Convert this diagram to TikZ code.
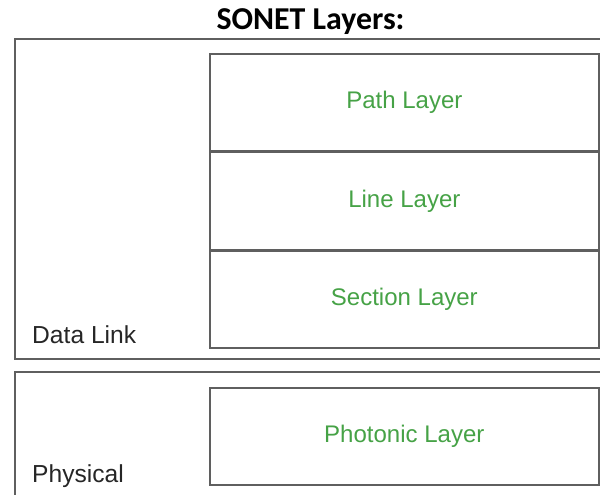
\documentclass[tikz,border=0pt]{standalone}
\usepackage{fontspec}
\setmainfont{Liberation Sans}
\newfontfamily\titlefont{Carlito}
\usetikzlibrary{positioning}
\definecolor{layergreen}{RGB}{70,162,70}
\definecolor{boxgray}{RGB}{95,95,95}

\begin{document}
\begin{tikzpicture}[
    x=0.03cm, y=-0.03cm, % pixel grid, y downwards
    frame/.style={draw=boxgray, line width=1.4pt},
    layer/.style={frame, minimum width=11.67cm, minimum height=2.91cm, inner sep=0pt,
                  text=layergreen, font=\fontsize{20.5}{24}\selectfont},
    side/.style={anchor=base west, inner sep=0pt, text=black!85, font=\fontsize{21}{24}\selectfont}
]
\useasboundingbox (0,0) rectangle (600,494);
\clip (0,0) rectangle (600,494);

% ========== title ==========
\node[anchor=base, inner sep=0pt, font=\titlefont\bfseries\fontsize{27.2}{30}\selectfont] (title) at (310.5,29) {SONET Layers:};

% ========== Data Link ==========
\draw[frame] (15,39) rectangle (610,359); % outer box
\node[layer, anchor=north west] (path) at (209,53) {Path Layer};
\node[layer, below=0pt of path] (line) {Line Layer};
\node[layer, below=0pt of line] (section) {Section Layer};
\node[side] (dlink) at (32,343) {Data Link};

% ========== Physical ==========
\draw[frame] (15,510) -- (15,372) -- (610,372); % open at bottom and right
\node[layer, anchor=north west] (photonic) at (209,387) {Photonic Layer};
\node[side] (phys) at (32,482) {Physical};

\end{tikzpicture}
\end{document}
